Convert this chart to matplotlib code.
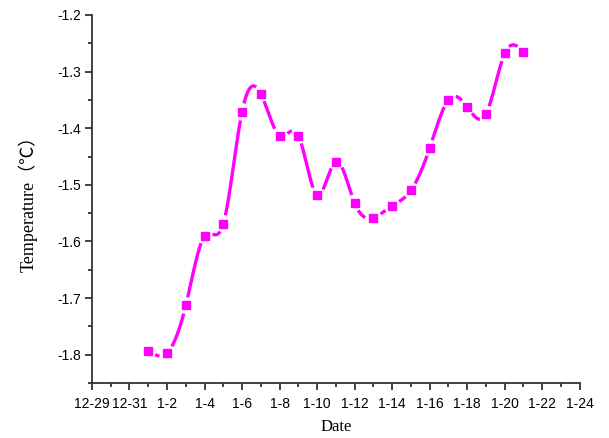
import numpy as np
import matplotlib
matplotlib.use("Agg")
import matplotlib.pyplot as plt
from matplotlib.ticker import MultipleLocator, FixedLocator

plt.rcParams['axes.unicode_minus'] = False

# daily mean temperature readings
dates = ['2014-01-01', '2014-01-02', '2014-01-03', '2014-01-04', '2014-01-05',
         '2014-01-06', '2014-01-07', '2014-01-08', '2014-01-09', '2014-01-10',
         '2014-01-11', '2014-01-12', '2014-01-13', '2014-01-14', '2014-01-15',
         '2014-01-16', '2014-01-17', '2014-01-18', '2014-01-19', '2014-01-20',
         '2014-01-21']
temps = [-1.793, -1.797, -1.713, -1.590, -1.569,
         -1.371, -1.339, -1.413, -1.413, -1.518,
         -1.459, -1.532, -1.558, -1.537, -1.510,
         -1.435, -1.350, -1.362, -1.375, -1.268,
         -1.265]

axis_start = np.datetime64('2013-12-29')
axis_end = np.datetime64('2014-01-24')


def day_offset(d):
    return (np.array(d, dtype='datetime64[D]') - axis_start).astype(float)


def natural_spline(x, y, xs):
    n = len(x)
    h = np.diff(x)
    A = np.zeros((n, n))
    rhs = np.zeros(n)
    A[0, 0] = A[-1, -1] = 1
    for i in range(1, n - 1):
        A[i, i - 1] = h[i - 1]
        A[i, i] = 2 * (h[i - 1] + h[i])
        A[i, i + 1] = h[i]
        rhs[i] = 3 * ((y[i + 1] - y[i]) / h[i] - (y[i] - y[i - 1]) / h[i - 1])
    c = np.linalg.solve(A, rhs)
    b = np.diff(y) / h - h * (2 * c[:-1] + c[1:]) / 3
    d = np.diff(c) / (3 * h)
    idx = np.clip(np.searchsorted(x, xs) - 1, 0, n - 2)
    dx = xs - x[idx]
    return y[idx] + b[idx] * dx + c[idx] * dx ** 2 + d[idx] * dx ** 3


x = day_offset(dates)
y = np.array(temps)
span = float((axis_end - axis_start).astype(int))

fig = plt.figure(figsize=(6.09, 4.38), dpi=100)
ax = fig.add_axes([0.151, 0.1256, 0.801, 0.8402])
ax.set_xlim(0, span)
ax.set_ylim(-1.85, -1.2)

# smooth curve, broken around each marker
xs = np.linspace(x[0], x[-1], 2000)
ys = natural_spline(x, y, xs)
curve_px = ax.transData.transform(np.column_stack([xs, ys]))
mark_px = ax.transData.transform(np.column_stack([x, y]))
dist = np.min(np.hypot(curve_px[:, None, 0] - mark_px[None, :, 0],
                       curve_px[:, None, 1] - mark_px[None, :, 1]), axis=1)
ys = np.where(dist < 8, np.nan, ys)

ax.plot(xs, ys, color='#FF00FF', lw=2.4, solid_capstyle='butt')
ax.plot(x, y, ls='none', marker='s', ms=6, color='#FF00FF', mec='#FF00FF')

# axes styling
for side in ('top', 'right'):
    ax.spines[side].set_visible(False)
for side in ('left', 'bottom'):
    ax.spines[side].set_linewidth(1.3)
    ax.spines[side].set_color('#333333')

tick_pos = np.arange(0, span + 1, 2)
tick_days = axis_start + tick_pos.astype(int)
tick_lbls = []
for t in tick_days:
    s = str(t)
    tick_lbls.append(f"{int(s[5:7])}-{int(s[8:10])}")
ax.xaxis.set_major_locator(FixedLocator(tick_pos))
ax.set_xticklabels(tick_lbls)
ax.xaxis.set_minor_locator(MultipleLocator(1))
ax.yaxis.set_major_locator(MultipleLocator(0.1))
ax.yaxis.set_minor_locator(MultipleLocator(0.05))
ax.yaxis.set_major_formatter(matplotlib.ticker.FormatStrFormatter('%.1f'))

ax.tick_params(which='major', direction='out', length=5, width=1.3,
               color='#333333', labelsize=10, pad=3)
ax.tick_params(axis='x', which='major', pad=5)
ax.tick_params(which='minor', direction='out', length=3, width=1.3,
               color='#333333')
for lbl in ax.get_xticklabels() + ax.get_yticklabels():
    lbl.set_family(['Liberation Sans', 'DejaVu Sans'])

ax.set_xlabel('Date', family=['Liberation Serif', 'Noto Sans CJK SC'],
              fontsize=12, labelpad=6)
ax.set_ylabel('Temperature（℃）', family=['Liberation Serif', 'Noto Sans CJK SC'],
              fontsize=13, labelpad=14)

fig.savefig('out.png', dpi=100)
